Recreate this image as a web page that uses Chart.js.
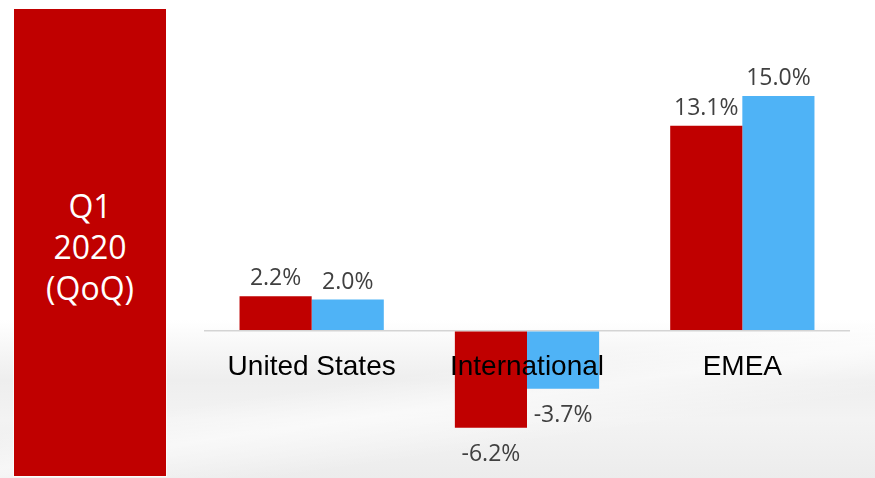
<!DOCTYPE html>
<html lang="en">
<head>
  <meta charset="UTF-8" />
  <title>Q1 2020 (QoQ)</title>
  <script src="https://cdn.jsdelivr.net/npm/chart.js@4.4.0/dist/chart.umd.min.js"></script>
  <style>
    html, body { margin: 0; padding: 0; }
    body {
      width: 875px;
      height: 478px;
      overflow: hidden;
      position: relative;
      background:
        linear-gradient(172deg, rgba(255,255,255,0) 0%, rgba(255,255,255,0) 72%, rgba(255,255,255,0.55) 78%, rgba(255,255,255,0) 86%),
        linear-gradient(to bottom, #ffffff 0px, #ffffff 320px, #eeeeee 380px, #f3f3f3 420px, #ececec 478px);
      font-family: 'Open Sans', sans-serif;
    }
    .side {
      position: absolute;
      left: 14px;
      top: 9px;
      width: 152px;
      height: 467px;
      background: #c00000;
      color: #fff;
      font-size: 32px;
      line-height: 41px;
      text-align: center;
      box-shadow: 0 0 0 1px rgba(255,255,255,0.7);
    }
    .side div { position: absolute; left: 0; right: 0; top: 176px; }
    #wrap { position: absolute; left: 0; top: 0; width: 875px; height: 478px; }
  </style>
</head>
<body>
<div class="side"><div>Q1<br>2020<br>(QoQ)</div></div>
<div id="wrap"><canvas id="chart"></canvas></div>

<script>
const regions = ['United States', 'International', 'EMEA'];
const prevQuarter = [2.2, -6.2, 13.1];
const thisQuarter = [2.0, -3.7, 15.0];

// draws value labels and the category names sitting on the zero line
const labelPlugin = {
  id: 'labels',
  afterDatasetsDraw(chart) {
    const ctx = chart.ctx;
    const yScale = chart.scales.y;
    const xScale = chart.scales.x;
    ctx.save();
    ctx.textAlign = 'center';
    ctx.font = '23px "Open Sans", sans-serif';
    ctx.fillStyle = '#404040';
    chart.data.datasets.forEach((ds, i) => {
      chart.getDatasetMeta(i).data.forEach((bar, j) => {
        const v = ds.data[j];
        const txt = v.toFixed(1) + '%';
        if (v >= 0) {
          ctx.textBaseline = 'bottom';
          ctx.fillText(txt, bar.x, bar.y - 6);
        } else {
          ctx.textBaseline = 'top';
          ctx.fillText(txt, bar.x, bar.y + 15);
        }
      });
    });
    ctx.font = '28px "Liberation Sans", Arial, sans-serif';
    ctx.fillStyle = '#000';
    ctx.textBaseline = 'middle';
    const zero = yScale.getPixelForValue(0);
    regions.forEach((r, i) => {
      ctx.fillText(r, xScale.getPixelForValue(i), zero + 37);
    });
    ctx.restore();
  }
};

new Chart(document.getElementById('chart').getContext('2d'), {
  type: 'bar',
  data: {
    labels: regions,
    datasets: [
      { label: 'Prior', data: prevQuarter, backgroundColor: '#c00000' },
      { label: 'Current', data: thisQuarter, backgroundColor: '#4fb3f6' }
    ]
  },
  options: {
    responsive: true,
    maintainAspectRatio: false,
    animation: false,
    categoryPercentage: 0.67,
    barPercentage: 1.0,
    layout: { padding: { left: 204, right: 25, top: 49, bottom: 22 } },
    plugins: { legend: { display: false }, tooltip: { enabled: false } },
    scales: {
      x: { display: false },
      y: {
        min: -8,
        max: 18,
        ticks: { display: false, stepSize: 1 },
        border: { display: false },
        grid: {
          drawTicks: false,
          lineWidth: 1.5,
          color: c => c.tick && c.tick.value === 0 ? '#d4d4d4' : 'rgba(0,0,0,0)'
        }
      }
    }
  },
  plugins: [labelPlugin]
});
</script>
</body>
</html>
